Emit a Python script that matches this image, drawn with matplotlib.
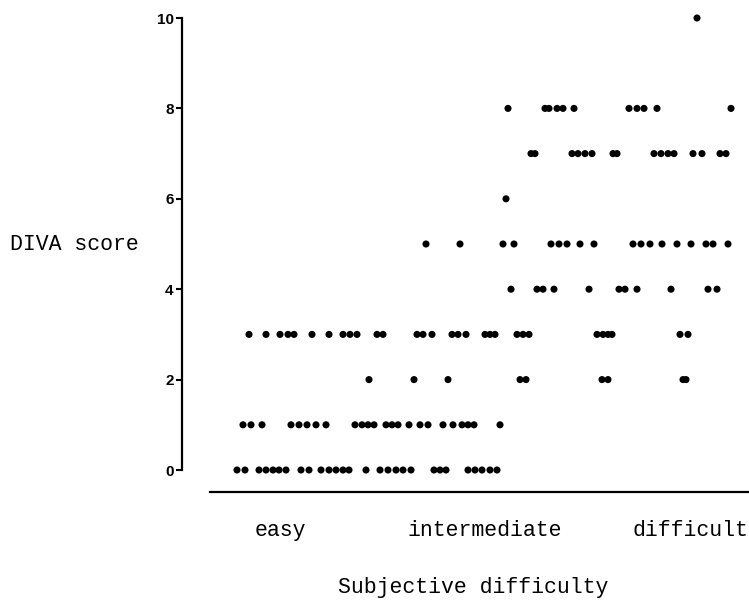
import matplotlib
matplotlib.use("Agg")
import matplotlib.pyplot as plt

# Horizontal positions (chart units) of the dots at each DIVA score level
score_levels = [0, 1, 2, 3, 4, 5, 6, 7, 8, 10]
pos_score0 = [237, 245, 259, 266, 273, 279, 286, 301, 309, 321, 329, 336, 343, 349,
              366, 380, 388, 396, 403, 411, 434, 440, 446, 468, 475, 482, 490, 497]
pos_score1 = [243, 251, 262, 291, 299, 307, 316, 326, 355, 362, 368, 374, 386, 392,
              398, 409, 420, 428, 443, 453, 462, 468, 474, 500]
pos_score2 = [369, 414, 448, 520, 526, 602, 608, 683, 686]
pos_score3 = [249, 266, 280, 288, 294, 312, 329, 343, 350, 357, 377, 383, 417, 423,
              432, 452, 458, 466, 485, 490, 495, 517, 523, 529, 597, 603, 608, 612,
              680, 688]
pos_score4 = [511, 537, 543, 554, 589, 619, 625, 637, 671, 708, 717]
pos_score5 = [426, 460, 503, 514, 551, 559, 567, 580, 594, 633, 641, 650, 662, 677,
              691, 706, 713, 728]
pos_score6 = [506]
pos_score7 = [531, 535, 572, 578, 585, 592, 613, 617, 654, 661, 668, 674, 693, 702,
              720, 726]
pos_score8 = [508, 545, 549, 557, 563, 574, 629, 637, 644, 657, 731]
pos_score10 = [697]
positions = [pos_score0, pos_score1, pos_score2, pos_score3, pos_score4,
             pos_score5, pos_score6, pos_score7, pos_score8, pos_score10]

categories = ["easy", "intermediate", "difficult"]
category_centers = [280, 485, 690]
y_ticks = [0, 2, 4, 6, 8, 10]

W, H = 749, 605
fig = plt.figure(figsize=(W / 100, H / 100), dpi=100)
ax = fig.add_axes([182 / W, 1 - 492 / H, (W - 182) / W, (492 - 18) / H])

for score, xs in zip(score_levels, positions):
    ax.scatter(xs, [score] * len(xs), s=26, color="black", edgecolors="none",
               zorder=3, clip_on=False)

ax.set_xlim(182, 749)
ax.set_ylim(-22 / 45.2, 10)

for side in ["top", "right"]:
    ax.spines[side].set_visible(False)
ax.spines["left"].set_bounds(0, 10)
ax.spines["left"].set_linewidth(1.6)
ax.spines["bottom"].set_bounds(210, 749)
ax.spines["bottom"].set_linewidth(1.6)

ax.set_yticks(y_ticks)
ax.set_yticklabels([str(t) for t in y_ticks], fontfamily="Liberation Sans",
                   fontweight="bold", fontsize=11)
ax.tick_params(axis="y", length=4.5, width=1.5, pad=1.5)

ax.set_xticks(category_centers)
ax.set_xticklabels(categories, fontfamily="Liberation Mono", fontsize=15.5)
ax.tick_params(axis="x", length=0, pad=20)

fig.text(10 / W, 1 - 244 / H, "DIVA score", fontfamily="Liberation Mono",
         fontsize=15.5, ha="left", va="center")
fig.text(473 / W, 1 - 588 / H, "Subjective difficulty", fontfamily="Liberation Mono",
         fontsize=15.5, ha="center", va="center")

fig.savefig("out.png", dpi=100)
